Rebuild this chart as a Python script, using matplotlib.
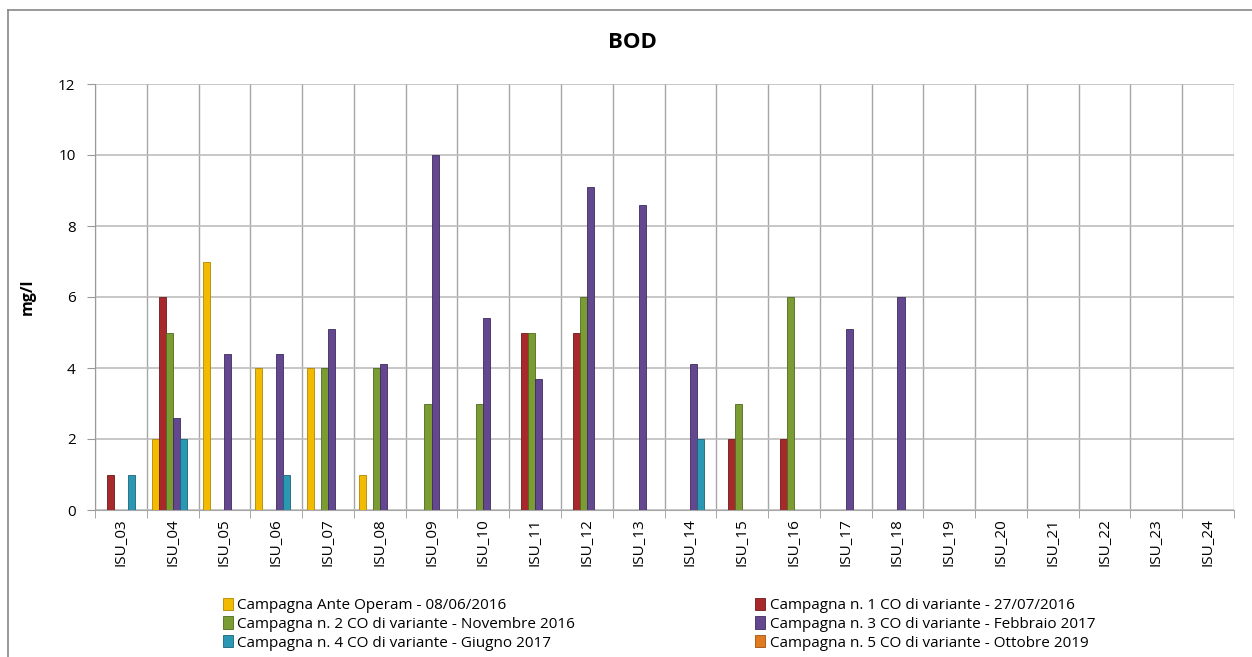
import matplotlib.pyplot as plt
import matplotlib
import numpy as np
from matplotlib.lines import Line2D

matplotlib.rcParams["font.family"] = ["Open Sans", "DejaVu Sans"]

#data
categories = ["ISU_%02d" % i for i in range(3, 25)]
series = ["Campagna Ante Operam - 08/06/2016",
          "Campagna n. 1 CO di variante - 27/07/2016",
          "Campagna n. 2 CO di variante - Novembre 2016",
          "Campagna n. 3 CO di variante - Febbraio 2017",
          "Campagna n. 4 CO di variante - Giugno 2017",
          "Campagna n. 5 CO di variante - Ottobre 2019"]
nan = np.nan
ante     = [nan, 2, 7, 4, 4, 1, nan, nan, nan, nan, nan, nan, nan, nan, nan, nan, nan, nan, nan, nan, nan, nan]
camp1    = [1, 6, nan, nan, nan, nan, nan, nan, 5, 5, nan, nan, 2, 2, nan, nan, nan, nan, nan, nan, nan, nan]
camp2    = [nan, 5, nan, nan, 4, 4, 3, 3, 5, 6, nan, nan, 3, 6, nan, nan, nan, nan, nan, nan, nan, nan]
camp3    = [nan, 2.6, 4.4, 4.4, 5.1, 4.1, 10, 5.4, 3.7, 9.1, 8.6, 4.1, nan, nan, 5.1, 6, nan, nan, nan, nan, nan, nan]
camp4    = [1, 2, nan, 1, nan, nan, nan, nan, nan, nan, nan, 2, nan, nan, nan, nan, nan, nan, nan, nan, nan, nan]
camp5    = [nan] * 22
values = [ante, camp1, camp2, camp3, camp4, camp5]
colors = ['#F2BA00', '#A8292B', '#7A9C32', '#63478F', '#2A97B3', '#E07A1F']
edges = ['#B08600', '#6E1A1B', '#4F6A1E', '#3F2B60', '#1A6478', '#9E5010']

fig = plt.figure(figsize=(12.52, 6.57), dpi=100)
ax = fig.add_axes([95 / 1252, 1 - 510 / 657, (1234 - 95) / 1252, (510 - 84) / 657])

x = np.arange(len(categories))
w = 0.136
for i, (vals, c, e) in enumerate(zip(values, colors, edges)):
    ax.bar(x + (i - 2.5) * w, vals, width=w, color=c, edgecolor=e, linewidth=0.6,
           label=series[i], zorder=3)

ax.set_xlim(-0.5, len(categories) - 0.5)
ax.set_ylim(0, 12)
ax.set_yticks(range(0, 13, 2))
ax.set_xticks(x)
ax.set_xticklabels(categories, rotation=90, fontsize=11)
ax.set_xticks(np.arange(-0.5, len(categories)), minor=True)
ax.tick_params(axis='x', which='major', length=0, pad=6)
ax.tick_params(axis='x', which='minor', length=6, color='#999999')
ax.tick_params(axis='y', length=6, color='#999999', labelsize=11, pad=8)
ax.grid(axis='y', color='#BDBDBD', linewidth=1.2, zorder=0)
ax.grid(axis='x', which='minor', color='#A6A6A6', linewidth=1.0, zorder=0)
for s in ['top', 'right']:
    ax.spines[s].set_visible(False)
ax.spines['left'].set_color('#999999')
ax.spines['bottom'].set_color('#A6A6A6')
ax.set_axisbelow(True)

ax.set_ylabel("mg/l", fontsize=11.5, fontweight='bold', labelpad=16)
fig.text(632 / 1252, 1 - 42 / 657, "BOD", fontsize=16, fontweight='bold', ha='center', va='center')

handles, labels = ax.get_legend_handles_labels()
order = [0, 2, 4, 1, 3, 5]  # row-wise like the original
leg = fig.legend([handles[i] for i in order], [labels[i] for i in order], ncol=2, loc='upper left',
                 bbox_to_anchor=(215 / 1252, 1 - 590 / 657), frameon=False,
                 fontsize=11, handlelength=0.65, handleheight=0.85, handletextpad=0.3,
                 columnspacing=11.8, labelspacing=0.22, borderpad=0)

# outer chart border
fig.add_artist(Line2D([8 / 1252, 8 / 1252], [0, 1 - 10 / 657], color='#888888', lw=1.2,
                      transform=fig.transFigure))
fig.add_artist(Line2D([8 / 1252, 1], [1 - 10 / 657, 1 - 10 / 657], color='#888888', lw=1.2,
                      transform=fig.transFigure))

fig.savefig("out.png", dpi=100)
